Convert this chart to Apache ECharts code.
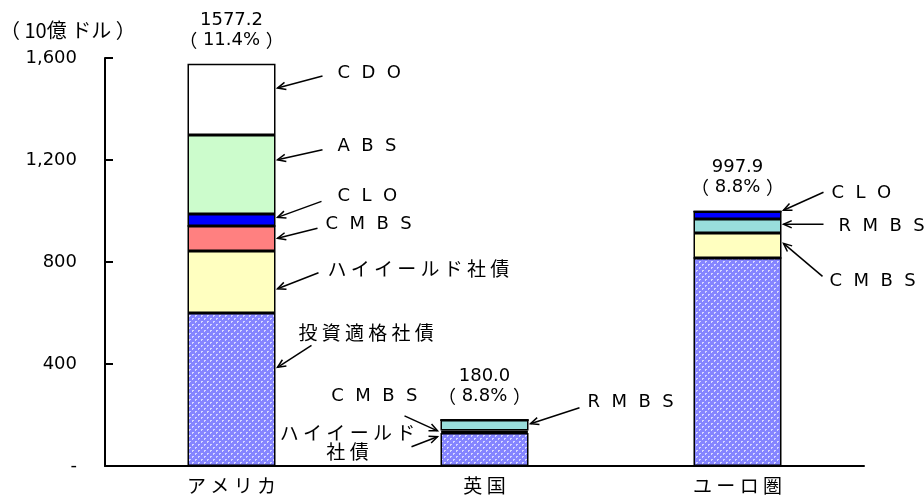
<!DOCTYPE html>
<html>
<head>
    <meta charset="utf-8">
    <title>ECharts</title>
    <script src="https://cdn.jsdelivr.net/npm/echarts@6/dist/echarts.min.js"></script>
</head>
<body style="margin:0;background:#fff;">
    <div id="main" style="width: 924px;height:498px;"></div>
    <script type="text/javascript">
        var categories = ['アメリカ', '英国', 'ユーロ圏'];
        // 積み上げ順（下から）
        var investGrade = [600, 129, 816];
        var highYield = [243, 5, 0];
        var cmbs = [98, 5, 98];
        var rmbs = [0, 41, 55];
        var clo = [47, 0, 29];
        var abs = [310, 0, 0];
        var cdo = [279, 0, 0];
        var totals = [1577.2, 180.0, 997.9];
        var shares = ['11.4%', '8.8%', '8.8%'];

        // 注記：[カテゴリ, 値, 向き, 矢印の尾dx, dy, 文字dx, dy, 文字]
        var notes = [
            [0, 1482, 'r', 45, -12, 60, -15, 'CDO'],
            [0, 1201, 'r', 45, -10, 60, -13, 'ABS'],
            [0, 975, 'r', 44, -16, 60, -21, 'CLO'],
            [0, 893, 'r', 40, -10, 48, -14, 'CMBS'],
            [0, 695, 'r', 41, -16, 50, -20, 'ハイイールド社債'],
            [0, 387, 'r', 34, -22, 21, -35, '投資適格社債'],
            [1, 166, 'r', 49, -16, 57, -21, 'RMBS'],
            [1, 138, 'l', -33, -15, -20, -34, 'CMBS'],
            [1, 115, 'l', -26, 10, -90, 6, 'ハイイールド\n社債'],
            [2, 1003, 'r', 40, -18, 48, -17, 'CLO'],
            [2, 948, 'r', 40, 0, 55, 2, 'RMBS'],
            [2, 873, 'r', 39, 33, 46, 38, 'CMBS']
        ];

        var myChart = echarts.init(document.getElementById('main'));

        // 投資適格社債の網掛け
        var cv = document.createElement('canvas');
        cv.width = 6; cv.height = 6;
        var ctx = cv.getContext('2d');
        ctx.fillStyle = '#8585ff';
        ctx.fillRect(0, 0, 6, 6);
        ctx.fillStyle = '#d8d8ff';
        ctx.fillRect(0, 0, 1, 1); ctx.fillRect(3, 3, 1, 1);
        ctx.fillRect(1, 0, 1, 1); ctx.fillRect(0, 1, 1, 1);
        ctx.fillRect(4, 3, 1, 1); ctx.fillRect(3, 4, 1, 1);
        var hatch = { image: cv, repeat: 'repeat' };

        var barW = 88;
        var latin = '"DejaVu Sans", sans-serif';
        var cjk = '"Noto Sans CJK JP", sans-serif';

        // 字間をあける
        function spaced(s) {
            return s.split('\n').map(function (line) {
                return /^[A-Z]+$/.test(line) ? line.split('').join('  ') : line.split('').join(' ');
            }).join('\n');
        }

        function layer(name, data, color) {
            return {
                name: name,
                type: 'bar',
                stack: 'all',
                barWidth: barW,
                data: data.map(function (v, i) {
                    return {
                        value: v,
                        itemStyle: { color: Array.isArray(color) ? color[i] : color }
                    };
                }),
                itemStyle: { borderColor: '#000', borderWidth: 1.5 },
                emphasis: { disabled: true }
            };
        }

        var option = {
            backgroundColor: '#fff',
            animation: false,
            grid: { left: 105, right: 60, top: 58, bottom: 32 },
            xAxis: {
                type: 'category',
                data: categories,
                axisLine: { lineStyle: { color: '#000', width: 2 } },
                axisTick: { show: false },
                axisLabel: {
                    color: '#000', fontSize: 19, margin: 10, fontFamily: cjk,
                    formatter: function (v) { return spaced(v); }
                }
            },
            yAxis: {
                type: 'value',
                min: 0,
                max: 1600,
                interval: 400,
                splitLine: { show: false },
                axisLine: { show: true, lineStyle: { color: '#000', width: 2 } },
                axisTick: { show: true, inside: true, length: 8, lineStyle: { color: '#000', width: 2 } },
                axisLabel: {
                    color: '#000', fontSize: 18, margin: 28, fontFamily: latin,
                    formatter: function (v) { return v === 0 ? '-' : v.toLocaleString('en-US'); }
                }
            },
            series: [
                layer('投資適格社債', investGrade, hatch),
                layer('ハイイールド社債', highYield, '#ffffc0'),
                layer('CMBS', cmbs, ['#ff8080', '#ffffc0', '#ffffc0']),
                layer('RMBS', rmbs, '#99dedc'),
                layer('CLO', clo, '#0000ff'),
                layer('ABS', abs, '#ccfccc'),
                layer('CDO', cdo, '#ffffff'),
                {
                    // 合計ラベル用（高さ0の棒）
                    name: '合計',
                    type: 'bar',
                    stack: 'all',
                    barWidth: barW,
                    data: totals.map(function () { return 0; }),
                    itemStyle: { color: 'rgba(0,0,0,0)', borderWidth: 0 },
                    silent: true,
                    label: {
                        show: true,
                        position: 'top',
                        distance: 14,
                        color: '#000',
                        fontSize: 18,
                        lineHeight: 20,
                        fontFamily: latin,
                        formatter: function (p) {
                            return '{n|' + totals[p.dataIndex].toFixed(1) + '}\n{p|（}{n| ' + shares[p.dataIndex] + ' }{p|）}';
                        },
                        rich: {
                            n: { fontFamily: latin, fontSize: 18, color: '#000', lineHeight: 20 },
                            p: { fontFamily: cjk, fontSize: 18, color: '#000', lineHeight: 20 }
                        }
                    }
                }
            ]
        };

        myChart.setOption(option);

        // 矢印と注記を配置
        var g = [{
            type: 'text',
            left: 0, top: 20,
            style: { text: '（ 10億 ドル ）', font: '20px ' + cjk, fill: '#000' }
        }];
        notes.forEach(function (n) {
            var p = myChart.convertToPixel({ xAxisIndex: 0, yAxisIndex: 0 }, [n[0], n[1]]);
            var tip = [n[2] === 'r' ? p[0] + barW / 2 + 2 : p[0] - barW / 2 - 3, p[1]];
            var tail = [tip[0] + n[3], tip[1] + n[4]];
            var a = Math.atan2(tail[1] - tip[1], tail[0] - tip[0]);
            var h1 = [tip[0] + 9 * Math.cos(a + 0.42), tip[1] + 9 * Math.sin(a + 0.42)];
            var h2 = [tip[0] + 9 * Math.cos(a - 0.42), tip[1] + 9 * Math.sin(a - 0.42)];
            g.push({ type: 'polyline', shape: { points: [tail, tip] }, style: { stroke: '#000', lineWidth: 1.5 }, silent: true });
            g.push({ type: 'polyline', shape: { points: [h1, tip, h2] }, style: { stroke: '#000', lineWidth: 1.5, fill: null }, silent: true });
            var multi = n[7].indexOf('\n') >= 0;
            var isLatin = /^[A-Z]+$/.test(n[7]);
            g.push({
                type: 'text',
                x: tip[0] + n[5],
                y: tip[1] + n[6],
                silent: true,
                style: {
                    text: spaced(n[7]),
                    font: (isLatin ? '18px ' + latin : '19px ' + cjk),
                    fill: '#000',
                    align: multi ? 'center' : (n[2] === 'r' ? 'left' : 'right'),
                    verticalAlign: 'middle',
                    lineHeight: 19
                }
            });
        });
        myChart.setOption({ graphic: g });
    </script>
</body>
</html>
